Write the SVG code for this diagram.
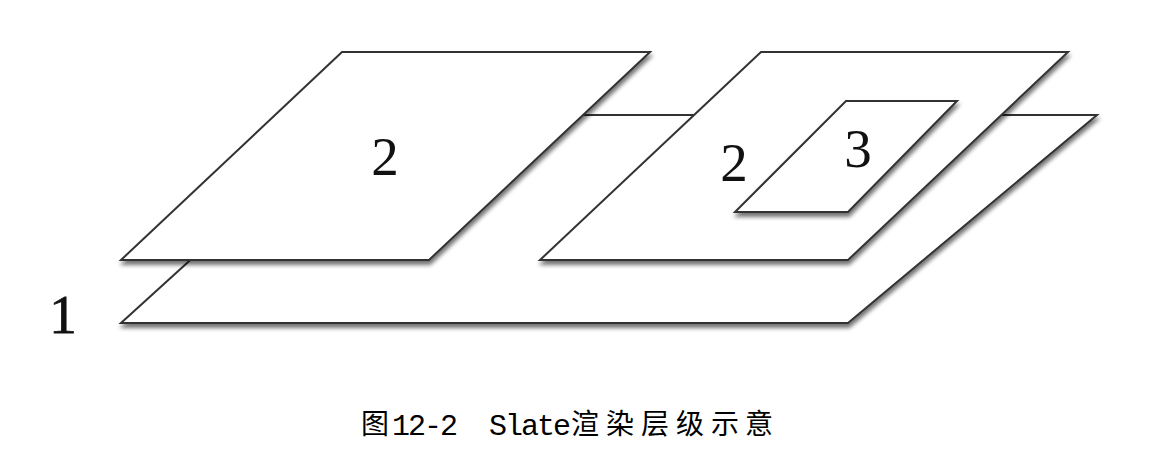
<svg xmlns="http://www.w3.org/2000/svg" width="1169" height="476" viewBox="0 0 1169 476">
  <style>
    .plate { fill: #ffffff; stroke: #333333; stroke-width: 2; stroke-linejoin: miter; filter: url(#shadow); }
    .num { font-family: "Liberation Serif", "Times New Roman", serif; font-size: 55px; fill: #111; text-anchor: middle; }
    .cap-cjk { font-family: "Noto Sans CJK SC", sans-serif; font-size: 28px; fill: #000; }
    .cap-lat { font-family: "Liberation Mono", "DejaVu Sans Mono", monospace; font-size: 30px; fill: #000; }
  </style>
  <defs>
    <filter id="shadow" x="-5%" y="-5%" width="115%" height="125%">
      <feGaussianBlur in="SourceAlpha" stdDeviation="2.2"/>
      <feOffset dx="1" dy="3.5" result="b"/>
      <feComponentTransfer in="b" result="s">
        <feFuncA type="linear" slope="0.55"/>
      </feComponentTransfer>
      <feMerge>
        <feMergeNode in="s"/>
        <feMergeNode in="SourceGraphic"/>
      </feMerge>
    </filter>
  </defs>
  <rect width="1169" height="476" fill="#ffffff"/>

  <g id="layer1">
    <polygon class="plate" points="350,115 1097,115 848,323 121,323"/>
    <text class="num" x="63" y="333" stroke="#111" stroke-width="0.8">1</text>
  </g>

  <g id="layer2-left">
    <polygon class="plate" points="342,52 650,52 429,260 121,260"/>
    <text class="num" x="385" y="175">2</text>
  </g>

  <g id="layer2-right">
    <polygon class="plate" points="761,52 1068,52 848,260 540,260"/>
    <text class="num" x="734" y="181">2</text>
  </g>

  <g id="layer3">
    <polygon class="plate" points="846,101 957,101 848,212 735,212"/>
    <text class="num" x="858" y="167">3</text>
  </g>

  <g id="connectors"></g>

  <g id="caption">
    <text class="cap-cjk" x="361" y="434">图</text>
    <text class="cap-lat" x="392 408 424 440" y="435">12-2</text>
    <text class="cap-lat" x="489 505 521 537 553" y="435">Slate</text>
    <text class="cap-cjk" x="571 606 641 676 711 745" y="434">渲染层级示意</text>
  </g>
</svg>
